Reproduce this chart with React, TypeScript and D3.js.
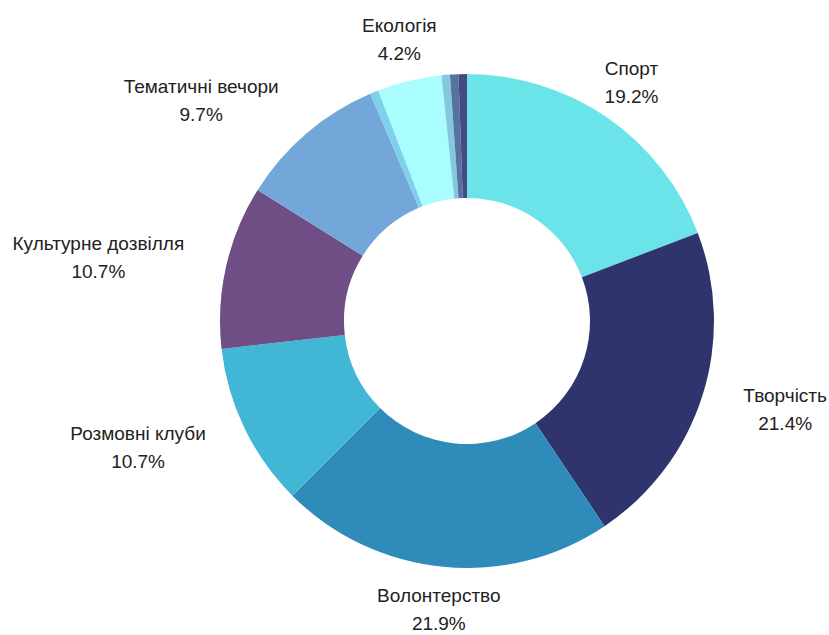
import React from "react";
import * as d3 from "d3";

const categories = [
  "Спорт",
  "Творчість",
  "Волонтерство",
  "Розмовні клуби",
  "Культурне дозвілля",
  "Тематичні вечори",
  "Інше 1",
  "Екологія",
  "Інше 2",
  "Інше 3",
  "Інше 4",
];
const values = [19.2, 21.4, 21.9, 10.7, 10.7, 9.7, 0.55, 4.2, 0.55, 0.55, 0.55];
const colors = [
  "#6be4e9",
  "#30346c",
  "#2e8bba",
  "#41b6d5",
  "#6f4e86",
  "#74a7d9",
  "#7fd0ea",
  "#aafdff",
  "#82c9e0",
  "#56739f",
  "#474a82",
];

const W = 829;
const H = 635;
const cx = 467;
const cy = 321;
const outerR = 247;
const innerR = 123;
const labelR = 290;
const fontSize = 19;
const lineGap = 28;

export default function App() {
  const data = categories.map((c, i) => ({ name: c, value: values[i], color: colors[i] }));
  const total = d3.sum(values);
  const pie = d3
    .pie<any>()
    .value((d: any) => d.value)
    .sort(null)
    .startAngle(0)
    .endAngle(2 * Math.PI);
  const arcs = pie(data);
  const arcGen = d3.arc<any>().innerRadius(innerR).outerRadius(outerR);
  const labelArc = d3.arc<any>().innerRadius(labelR).outerRadius(labelR);

  return (
    <svg
      width={W}
      height={H}
      style={{ position: "absolute", left: 0, top: 0, background: "#fff" }}
    >
      <g transform={`translate(${cx},${cy})`}>
        {arcs.map((a: any, i: number) => (
          <path key={i} d={arcGen(a) as string} fill={a.data.color} />
        ))}
        {arcs.map((a: any, i: number) => {
          const pct = (a.data.value / total) * 100;
          if (pct < 2) return null;
          const [x, y] = labelArc.centroid(a);
          const mid = (a.startAngle + a.endAngle) / 2;
          const s = Math.sin(mid);
          const anchor = Math.abs(s) < 0.6 ? "middle" : s > 0 ? "start" : "end";
          const y1 = y - lineGap / 2 + fontSize * 0.36;
          return (
            <text
              key={"l" + i}
              fontFamily="'Liberation Sans', Arial, sans-serif"
              fontSize={fontSize}
              fill="#222"
            >
              <tspan x={x} y={y1} textAnchor={anchor}>
                {a.data.name}
              </tspan>
              <tspan
                x={x}
                y={y1 + lineGap}
                textAnchor={anchor}
                ref={(el) => {
                  if (!el || anchor === "middle") return;
                  const first = el.previousSibling as SVGTSpanElement | null;
                  if (!first) return;
                  const w1 = first.getComputedTextLength();
                  const w2 = el.getComputedTextLength();
                  const dx = anchor === "start" ? (w1 - w2) / 2 : -(w1 - w2) / 2;
                  el.setAttribute("x", String(x + dx));
                }}
              >
                {pct.toFixed(1) + "%"}
              </tspan>
            </text>
          );
        })}
      </g>
    </svg>
  );
}
